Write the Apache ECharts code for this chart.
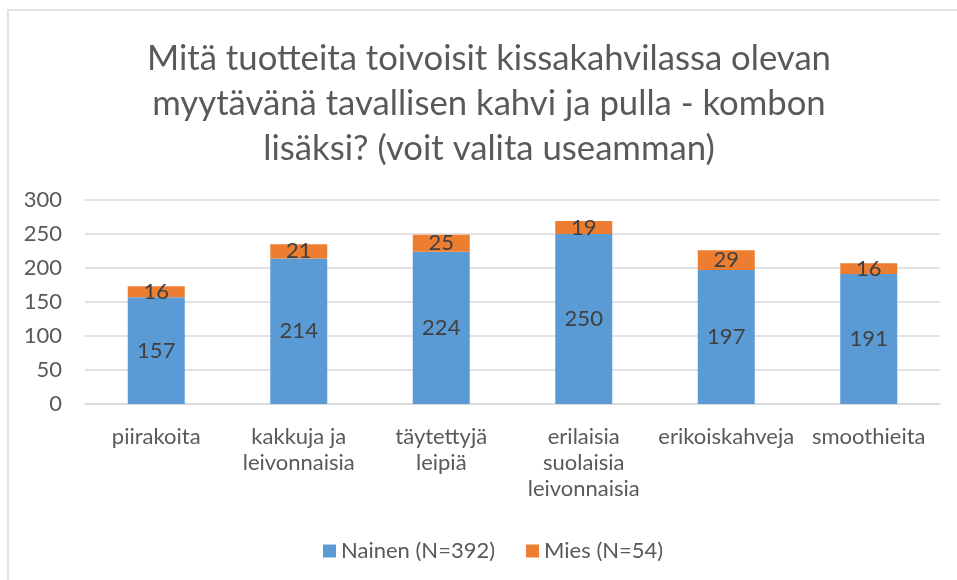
<!DOCTYPE html>
<html><head><meta charset="utf-8">
<script src="https://cdn.jsdelivr.net/npm/echarts@6/dist/echarts.min.js"></script>
<style>html,body{margin:0;padding:0;background:#fff}#c{width:957px;height:580px}</style>
</head><body><div id="c"></div>
<script>
const categories = ['piirakoita', 'kakkuja ja\nleivonnaisia', 'täytettyjä\nleipiä', 'erilaisia\nsuolaisia\nleivonnaisia', 'erikoiskahveja', 'smoothieita'];
const nainen = [157, 214, 224, 250, 197, 191];
const mies = [16, 21, 25, 19, 29, 16];
const seriesNames = ['Nainen (N=392)', 'Mies (N=54)'];
const titleText = 'Mitä tuotteita toivoisit kissakahvilassa olevan\nmyytävänä tavallisen kahvi ja pulla - kombon\nlisäksi? (voit valita useamman)';
const yTicks = {min: 0, max: 300, interval: 50};

const font = 'Lato, Liberation Sans, Arial, sans-serif';
const chart = echarts.init(document.getElementById('c'), null, {renderer: 'canvas'});
chart.setOption({
  animation: false,
  backgroundColor: '#fff',
  graphic: [{type: 'rect', shape: {x: 8, y: 10, width: 1000, height: 700}, style: {fill: 'none', stroke: '#d9d9d9', lineWidth: 1.5}, silent: true, z: -1}],
  title: {
    text: titleText, left: 484, top: 31, textAlign: 'center',
    textStyle: {fontFamily: font, fontSize: 34.7, fontWeight: 'normal', color: '#595959', lineHeight: 45}
  },
  legend: {
    data: seriesNames, left: 318, top: 535, itemWidth: 13, itemHeight: 13, itemGap: 31,
    icon: 'rect',
    textStyle: {fontFamily: font, fontSize: 22, color: '#595959'}
  },
  grid: {left: 85, right: 17, top: 200, bottom: 176, containLabel: false},
  xAxis: {
    type: 'category', data: categories,
    axisLine: {lineStyle: {color: '#d9d9d9', width: 1.5}},
    axisTick: {show: false},
    axisLabel: {fontFamily: font, fontSize: 22, color: '#595959', margin: 20, lineHeight: 26, interval: 0, verticalAlign: 'top', padding: [0, 0, 0, 0]}
  },
  yAxis: {
    type: 'value', min: yTicks.min, max: yTicks.max, interval: yTicks.interval,
    axisLine: {show: false}, axisTick: {show: false},
    splitLine: {lineStyle: {color: '#d9d9d9', width: 1.5}},
    axisLabel: {fontFamily: font, fontSize: 22, color: '#595959', margin: 23}
  },
  series: [
    {name: seriesNames[0], type: 'bar', stack: 'a', data: nainen, barWidth: '40%',
     itemStyle: {color: '#5B9BD5'},
     label: {show: true, position: 'inside', fontFamily: font, fontSize: 22, color: '#404040'}},
    {name: seriesNames[1], type: 'bar', stack: 'a', data: mies, barWidth: '40%',
     itemStyle: {color: '#ED7D31'},
     label: {show: true, position: 'inside', fontFamily: font, fontSize: 22, color: '#404040'}}
  ]
});
</script></body></html>
